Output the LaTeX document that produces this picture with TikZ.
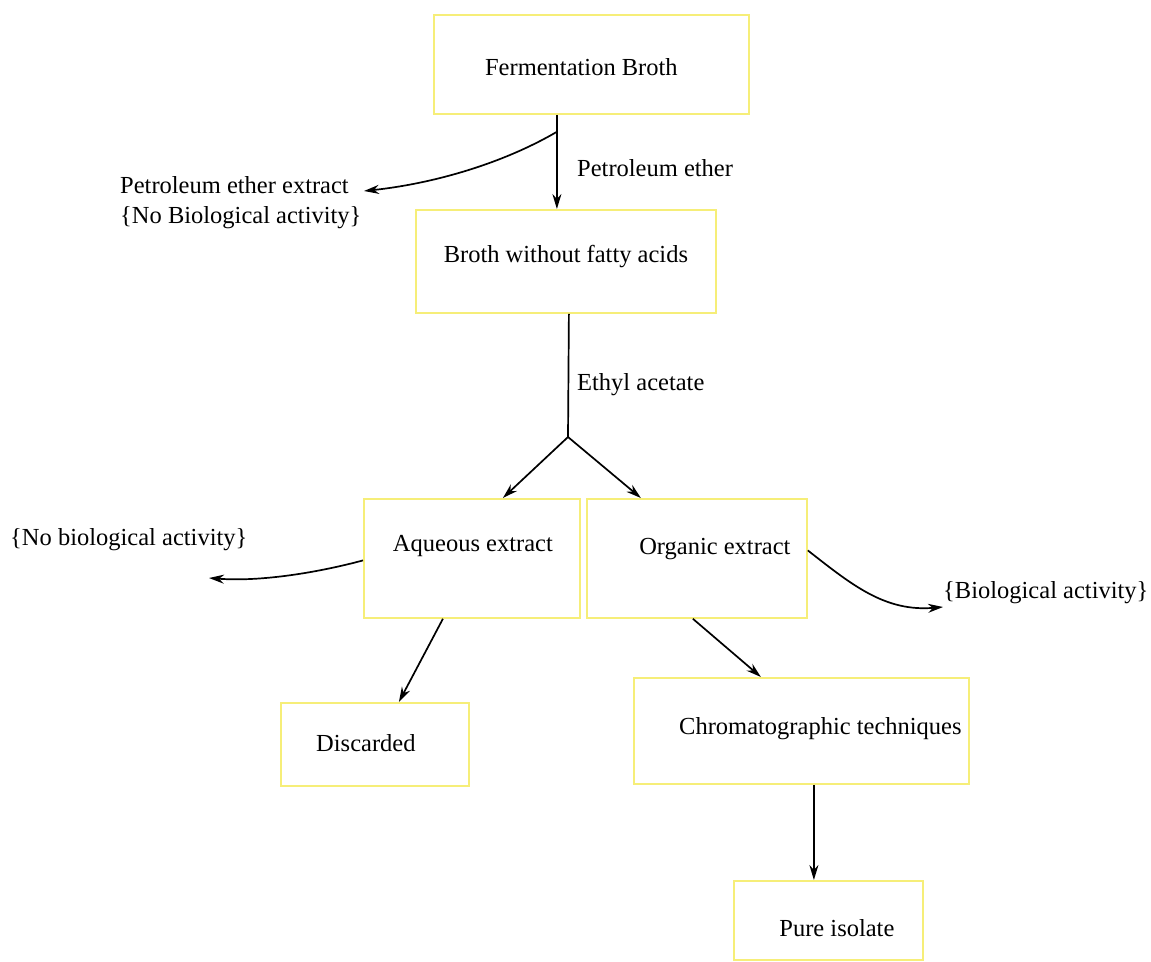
\documentclass[tikz,border=0pt]{standalone}
\usepackage{fontspec}
\setmainfont{Liberation Serif}
\usetikzlibrary{arrows.meta,calc}
\definecolor{boxyellow}{RGB}{246,238,120}
\newcommand{\txtshift}[3]{\raisebox{#2}[\height][\depth]{\hspace*{#1}#3\hspace*{-#1}}}
\begin{document}
\begin{tikzpicture}[x=1pt,y=-1pt,
  font=\fontsize{24.5}{30}\selectfont,
  box/.style={draw=boxyellow, line width=1.8pt, inner sep=0pt, anchor=north west},
  lbl/.style={inner sep=0pt, anchor=west},
  arr/.style={draw=black, line width=1.7pt, -{Stealth[length=15pt,width=9pt]}},
  plain/.style={draw=black, line width=1.7pt}]
\useasboundingbox (0,0) rectangle (1151,961);
% boxes
\node[box, minimum width=315pt, minimum height=99pt] (fb) at (433,14) {\txtshift{-10pt}{-3pt}{Fermentation Broth}};
\node[box, minimum width=300pt, minimum height=103pt] (bw) at (415,209) {\txtshift{0pt}{5pt}{Broth without fatty acids}};
\node[box, minimum width=216pt, minimum height=119pt] (aq) at (363,498) {\txtshift{1pt}{12.5pt}{Aqueous extract}};
\node[box, minimum width=220pt, minimum height=119pt] (org) at (586,498) {\txtshift{18pt}{9.5pt}{Organic extract}};
\node[box, minimum width=188pt, minimum height=83pt] (dis) at (280,702) {\txtshift{-9pt}{1.5pt}{Discarded}};
\node[box, minimum width=335pt, minimum height=106pt] (chr) at (633,677) {\txtshift{19pt}{2pt}{Chromatographic techniques}};
\node[box, minimum width=189pt, minimum height=79pt] (pure) at (733,880) {\txtshift{8.5pt}{-7.5pt}{Pure isolate}};
% labels
\node[lbl] (lpe) at (577,168) {Petroleum ether};
\node[lbl] (lea) at (577,385) {Ethyl acetate};
\node[lbl, align=left] (pex) at (120,203) {Petroleum ether extract\\\{No Biological activity\}};
\node[lbl] (nba) at (10,540) {\{No biological activity\}};
\node[lbl] (ba) at (943,593) {\{Biological activity\}};
% coordinates
\coordinate (pbr) at ($([xshift=-34.5pt]fb.south)+(0,17)$);
\coordinate (pend) at (364,191);
\coordinate (split) at (568,437);
\coordinate (nbaend) at (209,578);
\coordinate (baend) at (943,607);
% connectors
\draw[arr] ([xshift=-34.5pt]fb.south) -- ([xshift=-9pt]bw.north);
\draw[arr] (pbr) .. controls (500,165) and (430,184) .. (pend);
\draw[plain] ([xshift=3pt]bw.south) -- (split);
\draw[arr] (split) -- ([xshift=31pt]aq.north);
\draw[arr] (split) -- ([xshift=-56pt]org.north);
\draw[arr] ([yshift=-2pt]aq.west) .. controls (320,572) and (262,582) .. (nbaend);
\draw[arr] ([yshift=8pt]org.east) .. controls (852,585) and (885,612) .. (baend);
\draw[arr] ([xshift=-29pt]aq.south) -- ([xshift=24pt]dis.north);
\draw[arr] ([xshift=-4pt]org.south) -- ([xshift=-40.5pt]chr.north);
\draw[arr] ([xshift=12.5pt]chr.south) -- ([xshift=-14.5pt]pure.north);
\end{tikzpicture}
\end{document}
